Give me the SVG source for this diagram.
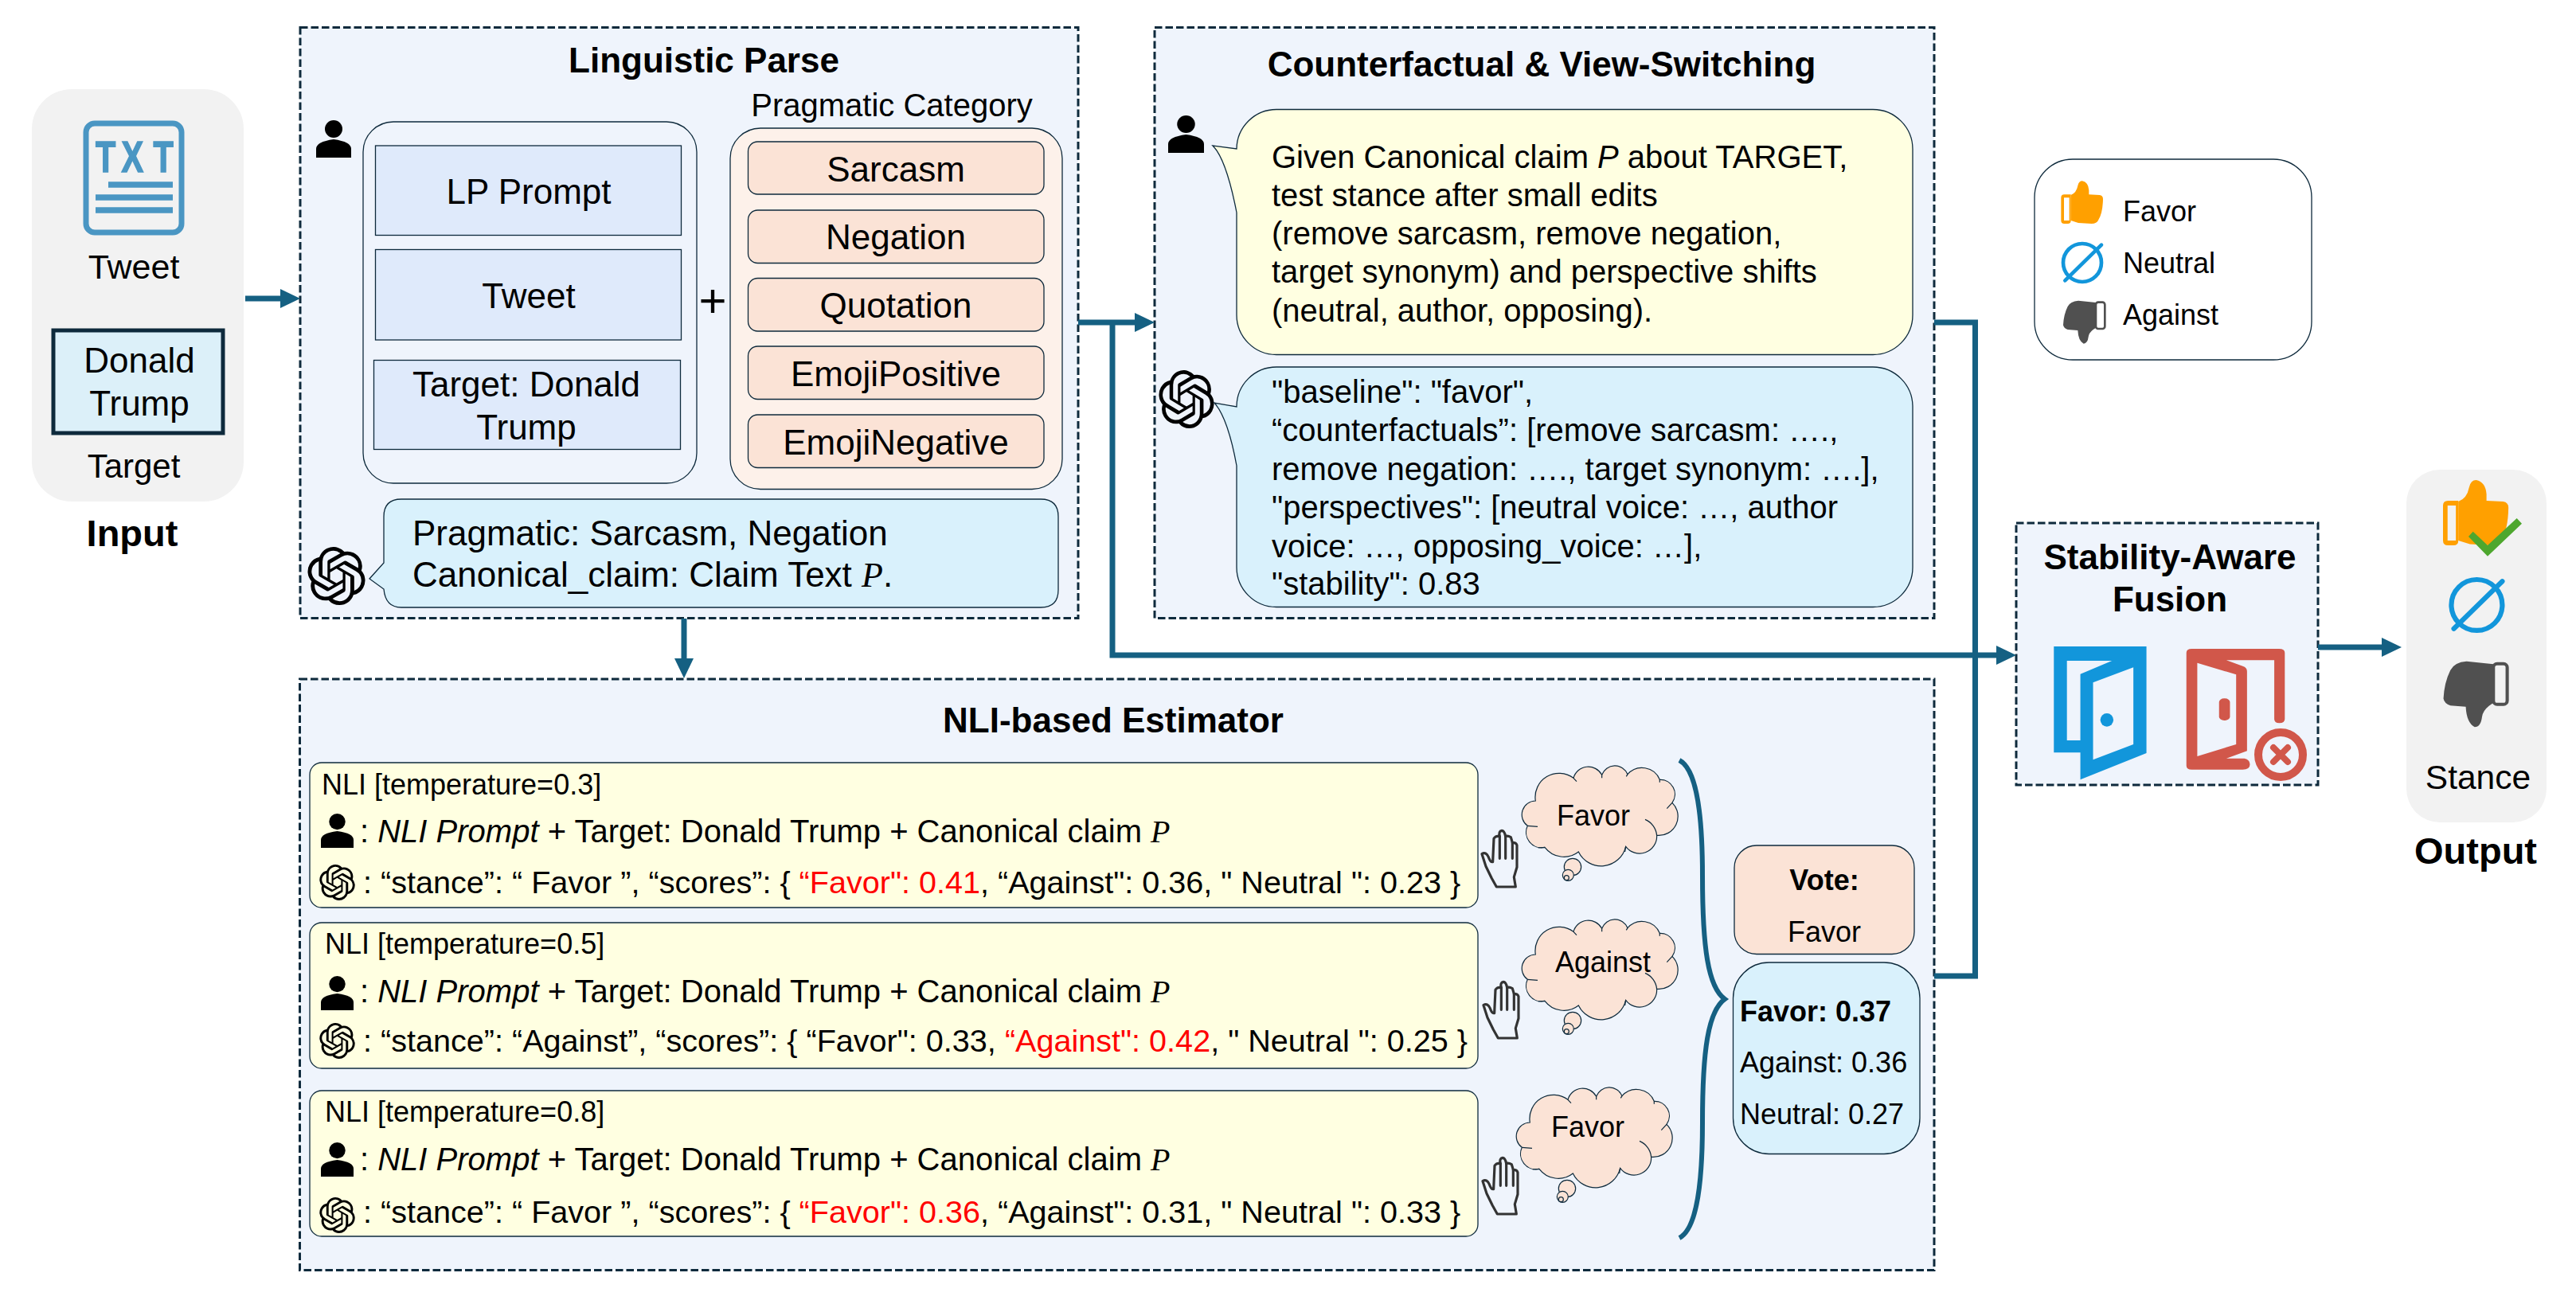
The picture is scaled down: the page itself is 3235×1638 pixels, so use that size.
<svg xmlns="http://www.w3.org/2000/svg" xmlns:xlink="http://www.w3.org/1999/xlink" width="3235" height="1638" viewBox="0 0 3235 1638">
<style>
text{font-family:"Liberation Sans",Arial,sans-serif;fill:#000}
.b{font-weight:bold}
.m{text-anchor:middle}
.s36{font-size:36px}.s39{font-size:39.600px}.s40{font-size:40px}.s42{font-size:42px}.s44{font-size:44px}.s47{font-size:47px}
.pi{font-family:"Liberation Serif",serif;font-style:italic}
.i{font-style:italic}
.red{fill:#ff0000}
.panel{fill:#f2f2f2}
.dash{fill:#eff4fc;stroke:#0e2a3c;stroke-width:3;stroke-dasharray:9.5 4}
.thin{stroke:#0e2a3c;stroke-width:1.3}
.blue{fill:#dfeafb}.peach{fill:#fbe3d6}.sky{fill:#d9f1fc}.yel{fill:#ffffe1}.bg{fill:#eff4fc}.cream{fill:#fdf1ea}
.conn{fill:none;stroke:#156082;stroke-width:7}
.cl{fill:none;stroke:#0e2a3c;stroke-width:3.6}
.hand{fill:none;stroke:#333;stroke-width:9.5;stroke-linejoin:round;stroke-linecap:round}
</style>
<defs>
<marker id="ah" markerUnits="userSpaceOnUse" markerWidth="26" markerHeight="26" refX="13" refY="12.5" orient="auto"><path d="M0,0.5 L25,12.5 L0,24.5Z" fill="#156082"/></marker>
<symbol id="person" viewBox="-22 0 44 47" preserveAspectRatio="none"><circle cx="0" cy="11" r="11"/><path d="M-22,47V36Q-22,27 0,24Q22,27 22,36V47Z"/></symbol>
<symbol id="gpt" viewBox="0 0 24 24" preserveAspectRatio="none"><path d="M22.2819 9.8211a5.9847 5.9847 0 0 0-.5157-4.9108 6.0462 6.0462 0 0 0-6.5098-2.9A6.0651 6.0651 0 0 0 4.9807 4.1818a5.9847 5.9847 0 0 0-3.9977 2.9 6.0462 6.0462 0 0 0 .7427 7.0966 5.98 5.98 0 0 0 .511 4.9107 6.051 6.051 0 0 0 6.5146 2.9001A5.9847 5.9847 0 0 0 13.2599 24a6.0557 6.0557 0 0 0 5.7718-4.2058 5.9894 5.9894 0 0 0 3.9977-2.9001 6.0557 6.0557 0 0 0-.7475-7.0729zm-9.022 12.6081a4.4755 4.4755 0 0 1-2.8764-1.0408l.1419-.0804 4.7783-2.7582a.7948.7948 0 0 0 .3927-.6813v-6.7369l2.02 1.1686a.071.071 0 0 1 .038.052v5.5826a4.504 4.504 0 0 1-4.4945 4.4944zm-9.6607-4.1254a4.4708 4.4708 0 0 1-.5346-3.0137l.142.0852 4.783 2.7582a.7712.7712 0 0 0 .7806 0l5.8428-3.3685v2.3324a.0804.0804 0 0 1-.0332.0615L9.74 19.9502a4.4992 4.4992 0 0 1-6.1408-1.6464zM2.3408 7.8956a4.485 4.485 0 0 1 2.3655-1.9728V11.6a.7664.7664 0 0 0 .3879.6765l5.8144 3.3543-2.0201 1.1685a.0757.0757 0 0 1-.071 0l-4.8303-2.7865A4.504 4.504 0 0 1 2.3408 7.872zm16.5963 3.8558L13.1038 8.364 15.1192 7.2a.0757.0757 0 0 1 .071 0l4.8303 2.7913a4.4944 4.4944 0 0 1-.6765 8.1042v-5.6772a.79.79 0 0 0-.407-.667zm2.0107-3.0231l-.142-.0852-4.7735-2.7818a.7759.7759 0 0 0-.7854 0L9.409 9.2297V6.8974a.0662.0662 0 0 1 .0284-.0615l4.8303-2.7866a4.4992 4.4992 0 0 1 6.6802 4.66zM8.3065 12.863l-2.02-1.1638a.0804.0804 0 0 1-.038-.0567V6.0742a4.4992 4.4992 0 0 1 7.3757-3.4537l-.142.0805L8.704 5.459a.7948.7948 0 0 0-.3927.6813zm1.0976-2.3654l2.602-1.4998 2.6069 1.4998v2.9994l-2.5974 1.4997-2.6067-1.4997Z"/></symbol>
<g id="thumbUp"><path fill="#ffa000" d="M92,90Q113,82 118,55Q122,37 135,37Q158,42 160,72L160,88L200,90Q213,92 213,105Q212,160 195,185Q190,197 170,198L120,195L92,186Z"/><path fill="#ffa000" fill-rule="evenodd" d="M67,88H92V186Q92,198 80,198H67Q55,198 55,186V100Q55,88 67,88ZM66,100V186H86V100Z"/></g>
<g id="thumbDown"><path fill="#505050" d="M186,495L120,488Q90,490 80,510Q65,540 63,580Q65,592 80,597L118,600Q120,640 140,650Q155,650 158,625Q160,610 175,598L186,590Z"/><rect x="186" y="494" width="34" height="100" rx="9" fill="none" stroke="#505050" stroke-width="8"/></g>
<g id="neutralIcon"><circle cx="135" cy="345" r="72" fill="none" stroke="#1296db" stroke-width="14"/><path d="M70,412L207,278" stroke="#1296db" stroke-width="14" stroke-linecap="round"/></g>
<g id="cloud">
<path class="peach" stroke="#0e2a3c" stroke-width="3.6" d="M235,228A90,90 0 0 1 378,142A58,58 0 0 1 485,130A52,52 0 0 1 582,128A72,72 0 0 1 703,148A55,55 0 0 1 750,235A72,72 0 0 1 692,358A65,65 0 0 1 575,400A95,95 0 0 1 397,420A90,90 0 0 1 270,403A58,58 0 0 1 205,322A52,52 0 0 1 235,228Z"/>
<path class="cl" d="M378,142L390,155M485,130V142M582,128L577,136M703,148V158M750,235L730,257M648,298A72,72 0 0 1 692,358M575,400L572,420M205,322L243,325M270,403L245,405"/>
<circle class="peach" cx="375" cy="477" r="32" stroke="#0e2a3c" stroke-width="3.6"/>
<circle class="peach" cx="358" cy="508" r="21" stroke="#0e2a3c" stroke-width="3.6"/>
<circle class="peach" cx="352" cy="518" r="9" stroke="#0e2a3c" stroke-width="3.6"/>
</g>
<g id="handIcon"><path class="hand" d="M88,552H160L154,515L165,478V395Q162,385 148,385L142,365Q130,358 122,362Q118,340 108,340Q95,342 100,362Q85,358 78,370L74,458Q65,460 58,440Q48,418 33,428L48,475L70,520Z"/><path class="hand" d="M100,362V445M122,362V445M148,385V445"/></g>
</defs>
<rect width="3235" height="1638" fill="#fff"/>

<g id="input">
<rect class="panel" x="40" y="112" width="266" height="518" rx="50"/>
<g id="txt-icon">
<rect x="108" y="155" width="120" height="137" rx="11" fill="none" stroke="#4a96c3" stroke-width="7"/>
<text transform="translate(120,216) scale(.74,1)" x="0 44 98" class="b" style="font-size:56px;fill:#4a96c3;stroke:#4a96c3;stroke-width:1.6">TXT</text>
<path d="M136,232H217M120,248H217M120,264H217" stroke="#4a96c3" stroke-width="7.5" fill="none"/>
</g>
<text x="168" y="350" class="m" style="font-size:43px">Tweet</text>
<rect x="67" y="415" width="213" height="129" fill="#dcf0f9" stroke="#0e2a3c" stroke-width="5"/>
<text x="175" y="468" class="m s44">Donald</text>
<text x="175" y="522" class="m s44">Trump</text>
<text x="168" y="600" class="m s42">Target</text>
<text x="166" y="686" class="m b s47">Input</text>
</g>

<g id="linguistic-parse">
<rect class="dash" x="377" y="34.500" width="977" height="742"/>
<text x="884" y="91" class="m b s44">Linguistic Parse</text>
<use xlink:href="#person" href="#person" x="397" y="151" width="44" height="47"/>
<rect class="bg thin" x="456" y="153" width="419" height="454" rx="38"/>
<rect class="blue thin" x="471.500" y="183" width="384" height="112.500"/>
<text x="664" y="256" class="m s44">LP Prompt</text>
<rect class="blue thin" x="471.500" y="313.500" width="384" height="113.500"/>
<text x="664" y="387" class="m s44">Tweet</text>
<rect class="blue thin" x="469.500" y="452.500" width="385" height="112"/>
<text x="661" y="498" class="m s44">Target: Donald</text>
<text x="661" y="552" class="m s44">Trump</text>
<text x="895" y="398" class="m" style="font-size:60px">+</text>
<text x="1120" y="146" class="m s40">Pragmatic Category</text>
<rect class="cream thin" x="917" y="161" width="417" height="453.500" rx="38"/>
<rect class="peach thin" x="939.500" y="178" width="371.500" height="66" rx="12"/>
<text x="1125" y="228" class="m s44">Sarcasm</text>
<rect class="peach thin" x="939.500" y="264" width="371.500" height="66.500" rx="12"/>
<text x="1125" y="313" class="m s44">Negation</text>
<rect class="peach thin" x="939.500" y="349.500" width="371.500" height="66.500" rx="12"/>
<text x="1125" y="399" class="m s44">Quotation</text>
<rect class="peach thin" x="939.500" y="435" width="371.500" height="66.500" rx="12"/>
<text x="1125" y="485" class="m s44">EmojiPositive</text>
<rect class="peach thin" x="939.500" y="521" width="371.500" height="66.500" rx="12"/>
<text x="1125" y="571" class="m s44">EmojiNegative</text>
<path class="sky thin" d="M504,627H1307Q1329,627 1329,649V741Q1329,763 1307,763H504Q484,763 482,740L464,727L482,707V649Q482,627 504,627Z"/>
<text x="518" y="685" class="s44">Pragmatic: Sarcasm, Negation</text>
<text x="518" y="737" class="s44">Canonical_claim: Claim Text <tspan class="pi">P</tspan>.</text>
<use xlink:href="#gpt" href="#gpt" x="386" y="687" width="73" height="73"/>
</g>

<g id="counterfactual">
<rect class="dash" x="1450" y="34.500" width="979" height="742"/>
<text x="1936" y="96" class="m b s44">Counterfactual &amp; View-Switching</text>
<use xlink:href="#person" href="#person" x="1467" y="145" width="45" height="47"/>
<path class="yel thin" d="M1603,137.500H2352A50,50 0 0 1 2402,187.500V395.500A50,50 0 0 1 2352,445.500H1603A50,50 0 0 1 1553,395.500V267Q1540,200 1523,183L1553,187A50,50 0 0 1 1603,137.500Z"/>
<text x="1597" y="211" class="s40">Given Canonical claim <tspan class="i">P</tspan> about TARGET,</text>
<text x="1597" y="259" class="s40">test stance after small edits</text>
<text x="1597" y="307" class="s40">(remove sarcasm, remove negation,</text>
<text x="1597" y="355" class="s40">target synonym) and perspective shifts</text>
<text x="1597" y="404" class="s40">(neutral, author, opposing).</text>
<use xlink:href="#gpt" href="#gpt" x="1455" y="465" width="70" height="73"/>
<path class="sky thin" d="M1603,461H2352A50,50 0 0 1 2402,511V712.500A50,50 0 0 1 2352,762.500H1603A50,50 0 0 1 1553,712.500V585Q1542,525 1525,506L1553,511A50,50 0 0 1 1603,461Z"/>
<text x="1597" y="506" class="s40">"baseline": "favor",</text>
<text x="1597" y="554" class="s40">“counterfactuals”: [remove sarcasm: ….,</text>
<text x="1597" y="603" class="s40">remove negation: …., target synonym: ….],</text>
<text x="1597" y="651" class="s40">"perspectives": [neutral voice: …, author</text>
<text x="1597" y="700" class="s40">voice: …, opposing_voice: …],</text>
<text x="1597" y="747" class="s40">"stability": 0.83</text>
</g>

<g id="legend">
<rect x="2555" y="200" width="348" height="252" rx="48" fill="#fff" stroke="#0e2a3c" stroke-width="1.3"/>
<use href="#thumbUp" xlink:href="#thumbUp" transform="translate(2570,215) scale(.3333)"/>
<text x="2666" y="278" class="s36">Favor</text>
<use href="#neutralIcon" xlink:href="#neutralIcon" transform="translate(2570,215) scale(.3333)"/>
<text x="2666" y="343" class="s36">Neutral</text>
<use href="#thumbDown" xlink:href="#thumbDown" transform="translate(2570,215) scale(.3333)"/>
<text x="2666" y="408" class="s36">Against</text>
</g>

<g id="fusion">
<rect class="dash" x="2532" y="657" width="379" height="329"/>
<text x="2725" y="714.500" class="m b s44">Stability-Aware</text>
<text x="2725" y="768" class="m b s44">Fusion</text>
<g transform="translate(2520,620) scale(.456,.3333)">
<path fill="#1296db" fill-rule="evenodd" d="M130,576H385V978L203,1078V976H130ZM166,630V930H203V680L290,630ZM238,712V1003L349,945V655Z"/>
<ellipse cx="276" cy="853" rx="18" ry="25" fill="#1296db"/>
<path fill="#d1574a" fill-rule="evenodd" d="M510,585H750Q766,585 766,600V850Q766,865 751,865Q737,865 737,850V628H605L650,650Q662,655 662,670V970L605,998H655Q670,1003 670,1020Q670,1040 650,1040H510Q495,1040 495,1025V600Q495,585 510,585ZM525,638V990L632,945V682Z"/>
<rect x="585" y="772" width="30" height="83" rx="14" fill="#d1574a"/>
</g>
<circle cx="2864" cy="948" r="28" fill="#eff4fc" stroke="#d1574a" stroke-width="10"/>
<path d="M2855,939L2873,957M2873,939L2855,957" stroke="#d1574a" stroke-width="8" stroke-linecap="round"/>
</g>

<g id="output">
<rect class="panel" x="3022" y="590" width="176" height="443" rx="42"/>
<use href="#thumbUp" xlink:href="#thumbUp" transform="translate(3039.400,584.100) scale(.52,.51)"/>
<path transform="translate(3040,590) scale(.3333)" fill="#4ea72e" d="M180,252L197,233L252,285L362,183L381,203L252,326Z"/>
<use href="#neutralIcon" xlink:href="#neutralIcon" transform="translate(3050.500,606.800) scale(.444)"/>
<use href="#thumbDown" xlink:href="#thumbDown" transform="translate(3036.400,581.800) scale(.51)"/>
<text x="3112" y="991" class="m" style="font-size:42.500px">Stance</text>
<text x="3109" y="1085" class="m b s47">Output</text>
</g>

<g id="nli-estimator">
<rect class="dash" x="376.500" y="853" width="2052.500" height="742.500"/>
<text x="1398" y="920" class="m b s44">NLI-based Estimator</text>

<g id="nli-1">
<rect class="yel thin" x="389" y="958" width="1467" height="182" rx="15"/>
<text x="404" y="998" class="s36">NLI [temperature=0.3]</text>
<use href="#person" xlink:href="#person" x="403" y="1022" width="41" height="43"/>
<text x="452" y="1058" class="s40">: <tspan class="i">NLI Prompt</tspan> + Target: Donald Trump + Canonical claim <tspan class="pi">P</tspan></text>
<use href="#gpt" xlink:href="#gpt" x="401" y="1086" width="45" height="45"/>
<text x="456" y="1122" class="s39">: “stance”: “ Favor ”, “scores”: { <tspan class="red">“Favor": 0.41</tspan>, “Against": 0.36, " Neutral ": 0.23 }</text>
</g>
<g id="nli-2">
<rect class="yel thin" x="389" y="1159" width="1467" height="183" rx="15"/>
<text x="408" y="1198" class="s36">NLI [temperature=0.5]</text>
<use href="#person" xlink:href="#person" x="403" y="1226" width="41" height="43"/>
<text x="452" y="1259" class="s40">: <tspan class="i">NLI Prompt</tspan> + Target: Donald Trump + Canonical claim <tspan class="pi">P</tspan></text>
<use href="#gpt" xlink:href="#gpt" x="401" y="1285" width="45" height="45"/>
<text x="456" y="1321" class="s39">: “stance”: “Against”, “scores”: { “Favor": 0.33, <tspan class="red">“Against": 0.42</tspan>, " Neutral ": 0.25 }</text>
</g>
<g id="nli-3">
<rect class="yel thin" x="389" y="1370" width="1467" height="183" rx="15"/>
<text x="408" y="1409" class="s36">NLI [temperature=0.8]</text>
<use href="#person" xlink:href="#person" x="403" y="1435" width="41" height="43"/>
<text x="452" y="1470" class="s40">: <tspan class="i">NLI Prompt</tspan> + Target: Donald Trump + Canonical claim <tspan class="pi">P</tspan></text>
<use href="#gpt" xlink:href="#gpt" x="401" y="1504" width="45" height="45"/>
<text x="456" y="1536" class="s39">: “stance”: “ Favor ”, “scores”: { <tspan class="red">“Favor": 0.36</tspan>, “Against": 0.31, " Neutral ": 0.33 }</text>
</g>

<g id="vote-1">
<use href="#handIcon" xlink:href="#handIcon" transform="translate(1850,930) scale(.3333)"/>
<use href="#cloud" xlink:href="#cloud" transform="translate(1850,930) scale(.3333)"/>
<text x="2001" y="1037" class="m s36">Favor</text>
</g>
<g id="vote-2">
<use href="#handIcon" xlink:href="#handIcon" transform="translate(1852,1120) scale(.3333)"/>
<use href="#cloud" xlink:href="#cloud" transform="translate(1850,1123) scale(.3333)"/>
<text x="2013" y="1221" class="m s36">Against</text>
</g>
<g id="vote-3">
<use href="#handIcon" xlink:href="#handIcon" transform="translate(1851,1341) scale(.3333)"/>
<use href="#cloud" xlink:href="#cloud" transform="translate(1843,1334) scale(.3333)"/>
<text x="1994" y="1428" class="m s36">Favor</text>
</g>

<path d="M2109,955C2128,965 2138,1010 2138,1100C2138,1190 2145,1240 2166,1255C2145,1270 2138,1320 2138,1410C2138,1500 2128,1545 2109,1555" fill="none" stroke="#156082" stroke-width="6"/>

<g id="vote-box">
<rect class="peach thin" x="2178" y="1062" width="226" height="136.500" rx="28"/>
<text x="2291" y="1118" class="m b s36">Vote:</text>
<text x="2291" y="1183" class="m s36">Favor</text>
</g>
<g id="score-box">
<rect class="sky thin" x="2176.500" y="1209" width="234.500" height="240.500" rx="45"/>
<text x="2185" y="1283" class="b s36">Favor: 0.37</text>
<text x="2185" y="1347" class="s36">Against: 0.36</text>
<text x="2185" y="1412" class="s36">Neutral: 0.27</text>
</g>
</g>

<g id="connectors">
<path class="conn" d="M308,375H365" marker-end="url(#ah)"/>
<path class="conn" d="M1354,405H1438" marker-end="url(#ah)"/>
<path class="conn" d="M1397,405V823H2520" marker-end="url(#ah)"/>
<path class="conn" d="M859,777V840" marker-end="url(#ah)"/>
<path class="conn" d="M2429,405H2480.500V1226H2429"/>
<path class="conn" d="M2911,813H3004" marker-end="url(#ah)"/>
</g>
</svg>
